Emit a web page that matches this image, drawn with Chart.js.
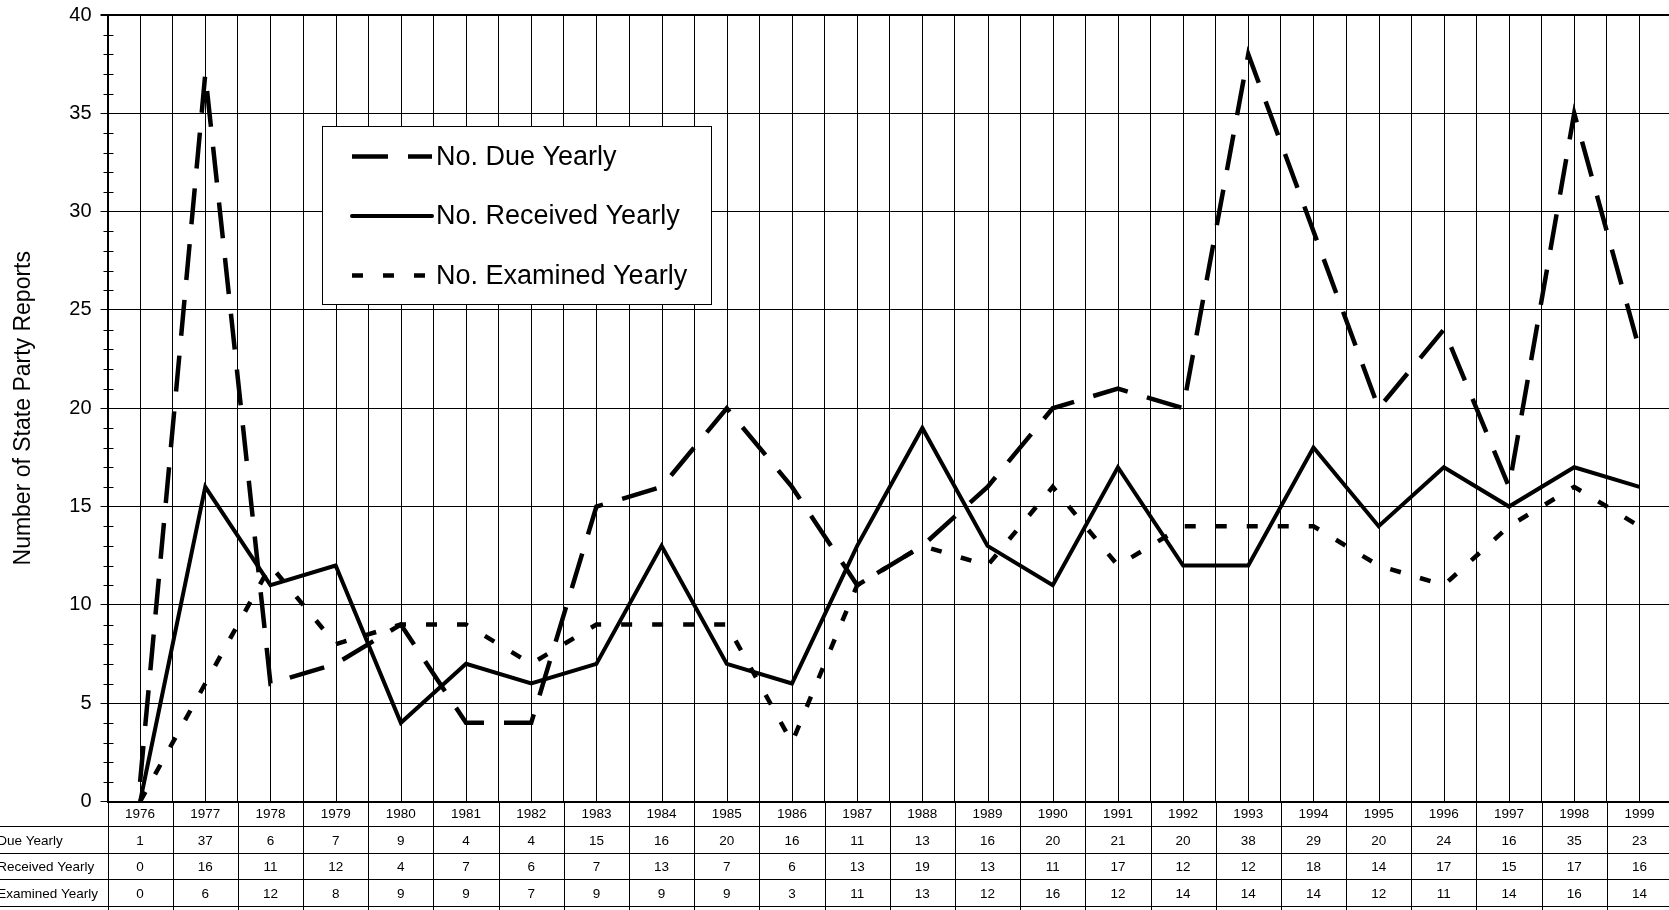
<!DOCTYPE html>
<html>
<head>
<meta charset="utf-8">
<script src="https://cdn.jsdelivr.net/npm/chart.js@4"></script>
<style>
  html, body { margin: 0; padding: 0; overflow: hidden; background: #fff; }
  canvas { display: block; }
</style>
</head>
<body>
<canvas id="chart" width="1672" height="910"></canvas>
<script>
const years = ['1976', '1977', '1978', '1979', '1980', '1981', '1982', '1983', '1984', '1985', '1986', '1987',
  '1988', '1989', '1990', '1991', '1992', '1993', '1994', '1995', '1996', '1997', '1998', '1999']
const dueYearly = [1, 37, 6, 7, 9, 4, 4, 15, 16, 20, 16, 11, 13, 16, 20, 21, 20, 38, 29, 20, 24, 16, 35, 23]
const receivedYearly = [0, 16, 11, 12, 4, 7, 6, 7, 13, 7, 6, 13, 19, 13, 11, 17, 12, 12, 18, 14, 17, 15, 17, 16]
const examinedYearly = [0, 6, 12, 8, 9, 9, 7, 9, 9, 9, 3, 11, 13, 12, 16, 12, 14, 14, 14, 12, 11, 14, 16, 14]
const yMin = 0
const yMax = 40
const yStep = 5

const fontFamily = 'Arial, "Liberation Sans", sans-serif'
const tableFont = '13.5px ' + fontFamily

// vertical lines through each year + minor ticks on the y axis
const extraGrid = {
  id: 'extraGrid',
  beforeDatasetsDraw(chart) {
    const { ctx, chartArea: a, scales } = chart
    ctx.save()
    ctx.strokeStyle = '#000'
    ctx.lineWidth = 1
    ctx.beginPath()
    years.forEach((yr, i) => {
      const px = Math.round(scales.x.getPixelForValue(i)) + 0.5
      ctx.moveTo(px, a.top)
      ctx.lineTo(px, a.bottom)
    })
    for (let v = yMin; v <= yMax; v++) {
      if (v % yStep === 0) continue
      const py = Math.round(scales.y.getPixelForValue(v)) + 0.5
      ctx.moveTo(a.left - 4, py)
      ctx.lineTo(a.left + 6, py)
    }
    ctx.stroke()
    ctx.restore()
  },
}

// data table under the x axis
const dataTable = {
  id: 'dataTable',
  afterDraw(chart) {
    const { ctx, chartArea: a, scales, width, height } = chart
    const x = scales.x
    const half = (x.getPixelForValue(1) - x.getPixelForValue(0)) / 2
    const lineOffsets = [24.5, 51.5, 77.5, 104.5]
    const textOffsets = [39.5, 66, 92.5]
    ctx.save()
    ctx.strokeStyle = '#000'
    ctx.lineWidth = 1
    ctx.beginPath()
    lineOffsets.forEach((off) => {
      const py = Math.round(a.bottom + off) + 0.5
      ctx.moveTo(0, py)
      ctx.lineTo(width, py)
    })
    ctx.moveTo(Math.round(a.left) + 0.5, a.bottom)
    ctx.lineTo(Math.round(a.left) + 0.5, height)
    years.forEach((yr, i) => {
      const px = Math.round(x.getPixelForValue(i) + half) + 0.5
      ctx.moveTo(px, a.bottom)
      ctx.lineTo(px, height)
    })
    ctx.stroke()

    ctx.fillStyle = '#000'
    ctx.font = tableFont
    ctx.textBaseline = 'middle'
    const labels = chart.data.datasets.map((d) => d.label)
    const labelStart = 98 - ctx.measureText(labels[2]).width
    chart.data.datasets.forEach((d, r) => {
      const py = a.bottom + textOffsets[r]
      ctx.textAlign = 'left'
      ctx.fillText(d.label, labelStart, py)
      ctx.textAlign = 'center'
      d.data.forEach((v, i) => {
        ctx.fillText(String(v), x.getPixelForValue(i), py)
      })
    })
    ctx.restore()
  },
}

// boxed legend inside the plot
const boxLegend = {
  id: 'boxLegend',
  afterDraw(chart) {
    const { ctx } = chart
    const box = { x: 322.5, y: 126.5, w: 389, h: 178 }
    ctx.save()
    ctx.fillStyle = '#fff'
    ctx.fillRect(box.x, box.y, box.w, box.h)
    ctx.strokeStyle = '#000'
    ctx.lineWidth = 1
    ctx.strokeRect(box.x, box.y, box.w, box.h)
    ctx.font = '27px ' + fontFamily
    ctx.textBaseline = 'middle'
    ctx.textAlign = 'left'
    chart.data.datasets.forEach((d, i) => {
      const py = 156.5 + i * 59.5
      ctx.beginPath()
      ctx.setLineDash(d.borderDash || [])
      ctx.lineWidth = d.borderWidth
      ctx.lineCap = d.borderDash ? 'butt' : 'round'
      ctx.moveTo(352, py)
      ctx.lineTo(432, py)
      ctx.stroke()
      ctx.fillStyle = '#000'
      ctx.fillText(d.label, 436, py + 1)
    })
    ctx.restore()
  },
}

const ctx = document.getElementById('chart').getContext('2d')
const myChart = new Chart(ctx, {
  type: 'line',
  data: {
    labels: years,
    datasets: [
      {
        label: 'No. Due Yearly',
        data: dueYearly,
        borderColor: '#000',
        borderWidth: 4.5,
        borderDash: [36, 20],
        pointRadius: 0,
        pointHoverRadius: 0,
        tension: 0,
      },
      {
        label: 'No. Received Yearly',
        data: receivedYearly,
        borderColor: '#000',
        borderWidth: 4,
        pointRadius: 0,
        pointHoverRadius: 0,
        tension: 0,
      },
      {
        label: 'No. Examined Yearly',
        data: examinedYearly,
        borderColor: '#000',
        borderWidth: 4.5,
        borderDash: [11, 20],
        pointRadius: 0,
        pointHoverRadius: 0,
        tension: 0,
      },
    ],
  },
  options: {
    responsive: false,
    animation: false,
    layout: { padding: { top: 15, right: 0, bottom: 0, left: 0 } },
    scales: {
      x: {
        offset: true,
        grid: {
          offset: true,
          color: '#000',
          lineWidth: 1,
          drawTicks: false,
        },
        border: { display: true, color: '#000', width: 2 },
        ticks: {
          color: '#000',
          padding: 5,
          maxRotation: 0,
          autoSkip: false,
          font: { family: fontFamily, size: 13.5 },
        },
        afterFit(scale) {
          scale.height = 108.5
        },
      },
      y: {
        min: yMin,
        max: yMax,
        ticks: {
          stepSize: yStep,
          color: '#000',
          padding: 9,
          font: { family: fontFamily, size: 20 },
        },
        grid: {
          color: '#000',
          tickColor: '#000',
          tickLength: 7,
          lineWidth: (c) => (c.tick && c.tick.value === yMax ? 2 : 1),
        },
        border: { display: true, color: '#000', width: 2 },
        title: {
          display: true,
          text: 'Number of State Party Reports',
          color: '#000',
          padding: { top: 9.5, bottom: 0 },
          font: { family: fontFamily, size: 23 },
        },
        afterFit(scale) {
          scale.width = 107.5
          scale.paddingTop = 0
          scale.paddingBottom = 0
        },
      },
    },
    plugins: {
      legend: { display: false },
      tooltip: { enabled: false },
    },
  },
  plugins: [extraGrid, dataTable, boxLegend],
})
</script>
</body>
</html>
